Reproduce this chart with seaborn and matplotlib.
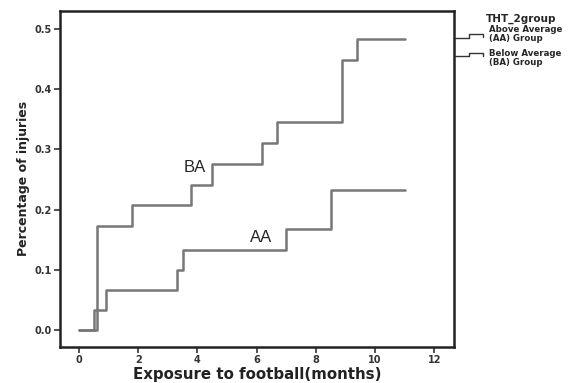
import matplotlib
matplotlib.use("Agg")
import matplotlib.pyplot as plt
import pandas as pd
import seaborn as sns

# cumulative injury rate, step points (months, proportion)
aa_time = [0.0, 0.5, 0.9, 3.3, 3.5, 7.0, 8.5, 11.0]
aa_rate = [0.0, 0.033, 0.067, 0.100, 0.133, 0.167, 0.233, 0.233]

ba_time = [0.0, 0.6, 1.8, 3.8, 4.5, 6.2, 6.7, 8.9, 9.4, 11.0]
ba_rate = [0.0, 0.172, 0.207, 0.241, 0.276, 0.310, 0.345, 0.448, 0.483, 0.483]

x_ticks = [0, 2, 4, 6, 8, 10, 12]
y_ticks = [0.0, 0.1, 0.2, 0.3, 0.4, 0.5]

df = pd.concat([
    pd.DataFrame({"time": aa_time, "rate": aa_rate, "group": "AA"}),
    pd.DataFrame({"time": ba_time, "rate": ba_rate, "group": "BA"}),
])

sns.set_style("white")
plt.rcParams["font.family"] = ["DejaVu Sans"]

fig = plt.figure(figsize=(5.74, 3.83), dpi=100)
ax = fig.add_axes([0.1045, 0.094, 0.6865, 0.877])

line_col = "#777777"
sns.lineplot(data=df, x="time", y="rate", units="group", estimator=None,
             drawstyle="steps-post", color=line_col, linewidth=1.8, ax=ax,
             legend=False)

ax.set_xlim(-0.64, 12.67)
ax.set_ylim(-0.028, 0.529)
ax.set_xticks(x_ticks)
ax.set_yticks(y_ticks)
ax.set_xticklabels([str(t) for t in x_ticks], fontsize=7, fontweight="bold", color="#333333")
ax.set_yticklabels([f"{t:.1f}" for t in y_ticks], fontsize=7, fontweight="bold", color="#333333")
ax.tick_params(axis="both", direction="out", length=4, width=1.2, color="#333333",
               bottom=True, left=True, pad=2)

for s in ax.spines.values():
    s.set_visible(True)
    s.set_color("#222222")
    s.set_linewidth(1.8)

ax.set_xlabel("")
ax.set_ylabel("")

W, H = 574, 383
def px(x, y):
    return x / W, 1 - y / H

fig.text(*px(257, 374), "Exposure to football(months)", fontsize=10.8,
         fontweight="bold", ha="center", va="center", color="#222222")
fig.text(*px(24, 178), "Percentage of injuries", fontsize=9, fontweight="bold",
         ha="center", va="center", rotation=90, color="#222222")

ax.text(3.9, 0.27, "BA", fontsize=12, family="Liberation Sans", ha="center", va="center")
ax.text(6.15, 0.153, "AA", fontsize=12, family="Liberation Sans", ha="center", va="center")

# SPSS-style legend outside the axes on the right
fig.text(*px(486, 19), "THT_2group", fontsize=7.5, fontweight="bold", va="center", ha="left")
for y0, y1, yt, lines in [(38, 34, 34, "Above Average\n(AA) Group"),
                          (56, 53, 58, "Below Average\n(BA) Group")]:
    xs = [455, 469, 469, 483, 483]
    ys = [y0, y0, y1, y1, y1 + 3]
    fx = [x / W for x in xs]
    fy = [1 - y / H for y in ys]
    fig.add_artist(plt.Line2D(fx, fy, color="#333333", linewidth=1.0))
    fig.text(*px(489, yt), lines, fontsize=6.2, fontweight="bold", va="center",
             ha="left", linespacing=1.05)

fig.savefig("out.png", dpi=100)
